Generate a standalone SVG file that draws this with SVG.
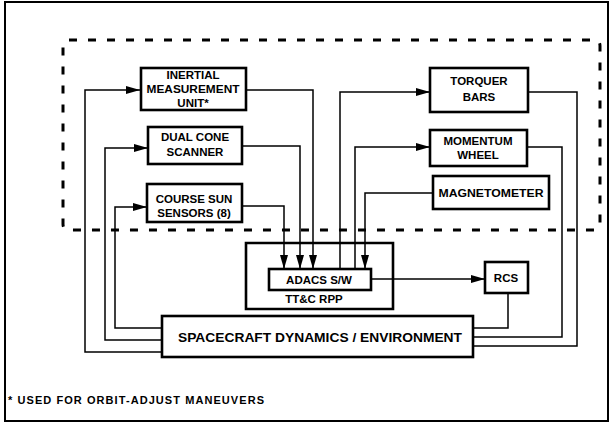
<svg xmlns="http://www.w3.org/2000/svg" width="613" height="424" viewBox="0 0 613 424">
<defs>
<marker id="arr" markerUnits="userSpaceOnUse" markerWidth="15" markerHeight="9" refX="14" refY="4" orient="auto">
<path d="M0,0 L14,4 L0,8 z" fill="#000"/>
</marker>
<style>
.box{fill:#fff;stroke:#000;stroke-width:2.6}
.t{font-family:"Liberation Sans",Arial,sans-serif;font-weight:bold;font-size:11.5px;text-anchor:middle;fill:#000}
.c{fill:none;stroke:#000;stroke-width:1.5}
.a{marker-end:url(#arr)}
</style>
</defs>
<rect width="613" height="424" fill="#fff"/>
<rect x="5" y="2" width="603" height="419" fill="none" stroke="#000" stroke-width="2"/>
<path d="M69,40 H594 Q600,40 600,46 V224 Q600,230 594,230 H69 Q63,230 63,224 V46 Q63,40 69,40 Z" fill="none" stroke="#000" stroke-width="3" stroke-dasharray="8 11"/>

<g id="connectors">
<path class="c a" d="M162,352 H85 V90 H140"/>
<path class="c a" d="M162,340 H105 V148 H148"/>
<path class="c a" d="M162,328 H115 V207 H147"/>
<path class="c a" d="M246,90 H313 V269"/>
<path class="c a" d="M242,146 H300 V269"/>
<path class="c a" d="M242,206 H284 V269"/>
<path class="c a" d="M340,269 V92 H430"/>
<path class="c a" d="M355,269 V147 H430"/>
<path class="c a" d="M433,193 H365 V269"/>
<path class="c a" d="M371,279 H485"/>
<path class="c" d="M508,293 V328 H473"/>
<path class="c" d="M527,147 H562 V337 H473"/>
<path class="c" d="M528,92 H577 V346 H473"/>
</g>

<g id="imu">
<rect class="box" x="141" y="68" width="105" height="42"/>
<text class="t" x="193" y="79">INERTIAL</text>
<text class="t" x="193" y="93" textLength="93" lengthAdjust="spacingAndGlyphs">MEASUREMENT</text>
<text class="t" x="193" y="107">UNIT*</text>
</g>
<g id="dcs">
<rect class="box" x="148" y="127" width="94" height="37"/>
<text class="t" x="195" y="141">DUAL CONE</text>
<text class="t" x="195" y="156">SCANNER</text>
</g>
<g id="css">
<rect class="box" x="147" y="184" width="95" height="38"/>
<text class="t" x="194" y="203">COURSE SUN</text>
<text class="t" x="194" y="217">SENSORS (8)</text>
</g>
<g id="torquer">
<rect class="box" x="430" y="68" width="98" height="44"/>
<text class="t" x="479" y="85">TORQUER</text>
<text class="t" x="479" y="101">BARS</text>
</g>
<g id="wheel">
<rect class="box" x="430" y="130" width="97" height="36"/>
<text class="t" x="478" y="145">MOMENTUM</text>
<text class="t" x="478" y="159">WHEEL</text>
</g>
<g id="mag">
<rect class="box" x="433" y="176" width="116" height="33"/>
<text class="t" x="491" y="197" textLength="105" lengthAdjust="spacingAndGlyphs">MAGNETOMETER</text>
</g>
<g id="ttc">
<path d="M246,243 H393 V309 H246 Z" fill="none" stroke="#000" stroke-width="2.6"/>
<text class="t" x="314" y="303">TT&amp;C RPP</text>
</g>
<g id="adacs">
<rect class="box" x="269" y="269" width="102" height="21"/>
<text class="t" x="319" y="284">ADACS S/W</text>
</g>
<g id="rcs">
<rect class="box" x="485" y="262" width="43" height="31"/>
<text class="t" x="506" y="282">RCS</text>
</g>
<g id="dynamics">
<rect class="box" x="162" y="316" width="311" height="41"/>
<text class="t" x="320" y="342" style="font-size:13px" textLength="284" lengthAdjust="spacingAndGlyphs">SPACECRAFT DYNAMICS / ENVIRONMENT</text>
</g>
<text x="8" y="404" style="font-family:'Liberation Sans',Arial,sans-serif;font-weight:bold;font-size:11px" textLength="256" lengthAdjust="spacing">* USED FOR ORBIT-ADJUST MANEUVERS</text>
</svg>
